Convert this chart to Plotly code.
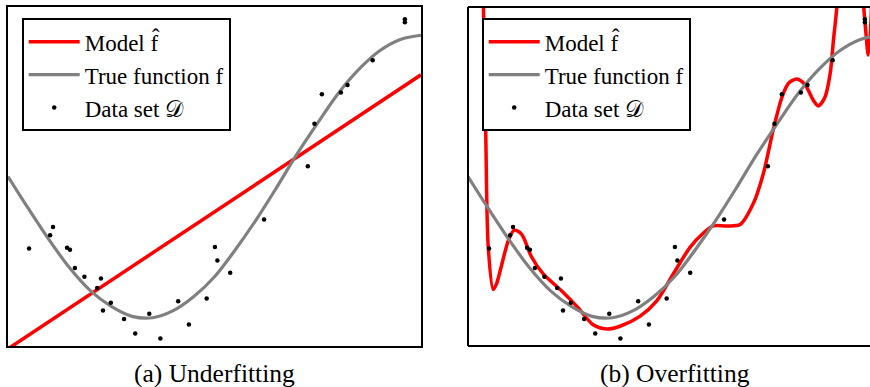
import plotly.graph_objects as go

# ---- data ----
data_x = [0.051, 0.102, 0.109, 0.143, 0.150, 0.162, 0.185, 0.225, 0.216, 0.249,
          0.230, 0.281, 0.308, 0.342, 0.369, 0.412, 0.438, 0.481, 0.501, 0.507,
          0.538, 0.620, 0.726, 0.742, 0.760, 0.806, 0.822, 0.883, 0.961, 0.961]
data_y = [-0.509, -0.416, -0.357, -0.504, -0.518, -0.648, -0.709, -0.723, -0.789, -0.894,
          -0.948, -1.009, -1.111, -0.972, -1.147, -0.884, -1.048, -0.863, -0.499, -0.594,
          -0.681, -0.305, 0.073, 0.374, 0.582, 0.594, 0.648, 0.823, 1.113, 1.092]

true_x = [0.00, 0.05, 0.10, 0.15, 0.20, 0.25, 0.30, 0.35, 0.40, 0.45, 0.50,
          0.55, 0.60, 0.65, 0.70, 0.75, 0.80, 0.85, 0.90, 0.95, 1.00]
true_y = [0.00, -0.23, -0.45, -0.65, -0.81, -0.92, -0.99, -1.00, -0.95, -0.85, -0.71,
          -0.52, -0.31, -0.08, 0.16, 0.38, 0.59, 0.76, 0.89, 0.97, 1.00]

under_x = [0.0, 1.0]
under_y = [-1.22, 0.72]

over_x = [0.000, 0.030, 0.037, 0.043, 0.049, 0.061, 0.069, 0.098, 0.112, 0.130,
          0.154, 0.182, 0.227, 0.267, 0.303, 0.336, 0.368, 0.416, 0.457, 0.497,
          0.538, 0.570, 0.594, 0.626, 0.659, 0.691, 0.715, 0.739, 0.760, 0.776,
          0.796, 0.816, 0.836, 0.848, 0.864, 0.877, 0.885, 0.893, 0.910, 0.930,
          0.945, 0.957, 0.964, 0.969, 0.974, 0.985]
over_y = [6.00, 2.40, 1.25, 0.30, -0.50, -0.80, -0.76, -0.45, -0.38, -0.41,
          -0.57, -0.69, -0.81, -0.93, -1.05, -1.08, -1.06, -0.99, -0.88, -0.69,
          -0.50, -0.40, -0.35, -0.35, -0.34, -0.19, 0.02, 0.33, 0.56, 0.66,
          0.69, 0.65, 0.54, 0.50, 0.56, 0.73, 0.97, 1.20, 2.20, 2.60,
          2.00, 1.25, 1.00, 0.86, 1.00, 2.00]

captions = ["(a) Underfitting", "(b) Overfitting"]
names = ["Model f\u0302", "True function f", "Data set \U0001D49F"]

RED = "#ff0000"
GRAY = "#808080"
FONT = "Liberation Serif"

W, H = 870, 387
ax_l, ax_r = 8 / W, 421 / W
bx_l, bx_r = 468 / W, 1.0
y_b, y_t = 1 - 346 / H, 1 - 7 / H

fig = go.Figure()

# panel (a)
fig.add_trace(go.Scatter(x=under_x, y=under_y, mode="lines", name=names[0],
                         line=dict(color=RED, width=3.5), xaxis="x", yaxis="y", legend="legend"))
fig.add_trace(go.Scatter(x=true_x, y=true_y, mode="lines", name=names[1],
                         line=dict(color=GRAY, width=3.2, shape="spline"), xaxis="x", yaxis="y",
                         legend="legend"))
fig.add_trace(go.Scatter(x=data_x, y=data_y, mode="markers", name=names[2],
                         marker=dict(color="black", size=4.5), xaxis="x", yaxis="y", legend="legend"))

# panel (b)
fig.add_trace(go.Scatter(x=over_x, y=over_y, mode="lines", name=names[0],
                         line=dict(color=RED, width=3.5, shape="spline", smoothing=0.8),
                         xaxis="x2", yaxis="y2", legend="legend2"))
fig.add_trace(go.Scatter(x=true_x, y=true_y, mode="lines", name=names[1],
                         line=dict(color=GRAY, width=3.2, shape="spline"), xaxis="x2", yaxis="y2",
                         legend="legend2"))
fig.add_trace(go.Scatter(x=data_x, y=data_y, mode="markers", name=names[2],
                         marker=dict(color="black", size=4.5), xaxis="x2", yaxis="y2", legend="legend2"))

axis_common = dict(showgrid=False, zeroline=False, showticklabels=False, ticks="")
legend_common = dict(xanchor="left", yanchor="top", bordercolor="black", borderwidth=2,
                     bgcolor="white", font=dict(family=FONT, size=23), tracegroupgap=0,
                     itemwidth=51)
fig.update_layout(
    width=W, height=H,
    margin=dict(l=0, r=0, t=0, b=0),
    paper_bgcolor="white", plot_bgcolor="white",
    font=dict(family=FONT, color="black"),
    xaxis=dict(domain=[ax_l, ax_r], range=[0, 1], showline=True, mirror=True,
               linecolor="black", linewidth=2, **axis_common),
    yaxis=dict(domain=[y_b, y_t], range=[-1.2, 1.2], showline=True, mirror=True,
               linecolor="black", linewidth=2, **axis_common),
    xaxis2=dict(domain=[bx_l, bx_r], range=[0, 402 / 413], showline=False, **axis_common),
    yaxis2=dict(domain=[y_b, y_t], range=[-1.2, 1.2], showline=False, anchor="x2",
                **axis_common),
    legend=dict(x=21.7 / W, y=1 - 18.3 / H, **legend_common),
    legend2=dict(x=481.7 / W, y=1 - 18.3 / H, **legend_common),
    showlegend=True,
)

# frame of panel (b): left, top and bottom edges (right edge is outside the picture)
for (x0, y0, x1, y1) in [(0, 0, 0, 1), (0, 1, 1, 1), (0, 0, 1, 0)]:
    fig.add_shape(type="line", xref="x2 domain", yref="y2 domain",
                  x0=x0, y0=y0, x1=x1, y1=y1, line=dict(color="black", width=2))

for cap, cx in zip(captions, [214.5 / W, 674.5 / W]):
    fig.add_annotation(text=cap, x=cx, y=1 - 373 / H, xref="paper", yref="paper",
                       xanchor="center", yanchor="middle", showarrow=False,
                       font=dict(family=FONT, size=25.5, color="black"))

fig.write_html("out.html")
